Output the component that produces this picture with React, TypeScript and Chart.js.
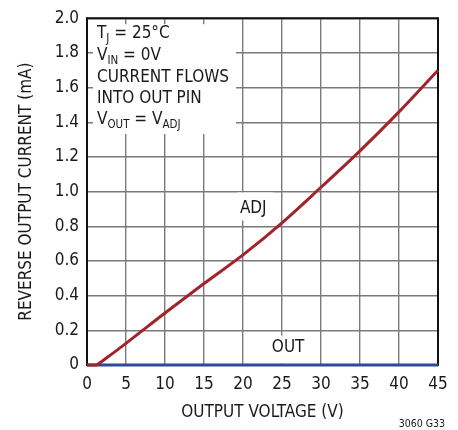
import React, { useEffect, useRef } from "react";
import { Chart, registerables } from "chart.js";

Chart.register(...registerables);

// ADJ pin current: flat part below ~1.3 V, then the rising curve
const adjFlatVoltage = [0, 1.3];
const adjFlatCurrent = [0, 0];
const voltage = [1.3, 5, 10, 15, 20, 25, 30, 35, 40, 45];
const adjCurrent = [0, 0.125, 0.3, 0.47, 0.635, 0.82, 1.025, 1.235, 1.46, 1.7];
const outVoltage = [0, 45];
const outCurrent = [0, 0];
const xTicks = [0, 5, 10, 15, 20, 25, 30, 35, 40, 45];
const yTicks = [0, 0.2, 0.4, 0.6, 0.8, 1.0, 1.2, 1.4, 1.6, 1.8, 2.0];

const FONT = '"DejaVu Sans Condensed", "Liberation Sans Narrow", sans-serif';
const RED = "#a3232a";
const BLUE = "#2c4a9c";

const decorPlugin = {
  id: "decor",
  beforeDatasetsDraw(chart: any) {
    const ctx = chart.ctx;
    const a = chart.chartArea;
    const x = chart.scales.x;
    const y = chart.scales.y;
    ctx.save();
    ctx.fillStyle = "#fff";
    ctx.fillRect(a.left + 6, a.top + 6, 236 - (a.left + 6), 134 - (a.top + 6));
    ctx.fillRect(x.getPixelForValue(19.3), y.getPixelForValue(0.995), 36, 28);
    ctx.fillRect(x.getPixelForValue(23.5), y.getPixelForValue(0.17), 38, 28);
    ctx.strokeStyle = "#111";
    ctx.lineWidth = 2;
    ctx.strokeRect(a.left, a.top, a.right - a.left, a.bottom - a.top);
    ctx.restore();
  },
  afterDraw(chart: any) {
    const ctx = chart.ctx;
    const a = chart.chartArea;
    const x = chart.scales.x;
    const y = chart.scales.y;
    ctx.save();
    ctx.fillStyle = "#1a1a1a";
    ctx.textBaseline = "alphabetic";
    const big = `17px ${FONT}`;
    const small = `11.5px ${FONT}`;
    const runs = (parts: [string, boolean][], px: number, py: number) => {
      let cx = px;
      for (const [t, sub] of parts) {
        ctx.font = sub ? small : big;
        ctx.fillText(t, cx, sub ? py + 4 : py);
        cx += ctx.measureText(t).width;
      }
    };
    ctx.textAlign = "left";
    const lx = a.left + 10;
    runs([["T", false], ["J", true], [" = 25°C", false]], lx, 38);
    runs([["V", false], ["IN", true], [" = 0V", false]], lx, 60);
    runs([["CURRENT FLOWS", false]], lx, 82);
    runs([["INTO OUT PIN", false]], lx, 103);
    runs([["V", false], ["OUT", true], [" = V", false], ["ADJ", true]], lx, 124);

    ctx.font = big;
    ctx.fillText("ADJ", x.getPixelForValue(19.6), y.getPixelForValue(0.875));
    ctx.fillText("OUT", x.getPixelForValue(23.7), y.getPixelForValue(0.075));

    ctx.textAlign = "center";
    ctx.fillText("OUTPUT VOLTAGE (V)", (a.left + a.right) / 2, 417);
    ctx.save();
    ctx.translate(31, (a.top + a.bottom) / 2);
    ctx.rotate(-Math.PI / 2);
    ctx.fillText("REVERSE OUTPUT CURRENT (mA)", 0, 0);
    ctx.restore();

    ctx.textAlign = "right";
    ctx.font = `10.5px ${FONT}`;
    ctx.fillText("3060 G33", 445, 427);
    ctx.restore();
  },
};

export default function App() {
  const ref = useRef<HTMLCanvasElement>(null);
  useEffect(() => {
    if (!ref.current) return;
    const chart = new Chart(ref.current, {
      type: "line",
      data: {
        datasets: [
          {
            label: "ADJ",
            data: voltage.map((v, i) => ({ x: v, y: adjCurrent[i] })),
            borderColor: RED,
            borderWidth: 3,
            pointRadius: 0,
            cubicInterpolationMode: "monotone",
            clip: false,
          },
          {
            label: "ADJ flat",
            data: adjFlatVoltage.map((v, i) => ({ x: v, y: adjFlatCurrent[i] })),
            borderColor: RED,
            borderWidth: 3,
            pointRadius: 0,
            clip: false,
          },
          {
            label: "OUT",
            data: outVoltage.map((v, i) => ({ x: v, y: outCurrent[i] })),
            borderColor: BLUE,
            borderWidth: 3,
            pointRadius: 0,
            clip: false,
          },
        ],
      },
      options: {
        responsive: false,
        animation: false,
        layout: { padding: { top: 16, right: 20, left: 0, bottom: 0 } },
        plugins: { legend: { display: false }, tooltip: { enabled: false } },
        scales: {
          x: {
            type: "linear",
            min: 0,
            max: 45,
            afterBuildTicks: (s: any) => {
              s.ticks = xTicks.map((v) => ({ value: v }));
            },
            afterFit: (s: any) => {
              s.height = 65;
            },
            grid: { color: "#7a7a7a", lineWidth: 1.4, drawTicks: false },
            border: { display: false },
            ticks: {
              padding: 9,
              color: "#1a1a1a",
              font: { family: FONT, size: 17 },
              maxRotation: 0,
              callback: (v: any) => String(v),
            },
          },
          y: {
            type: "linear",
            min: 0,
            max: 2,
            afterBuildTicks: (s: any) => {
              s.ticks = yTicks.map((v) => ({ value: v }));
            },
            afterFit: (s: any) => {
              s.width = 87;
            },
            grid: { color: "#7a7a7a", lineWidth: 1.4, drawTicks: false },
            border: { display: false },
            ticks: {
              padding: 8,
              color: "#1a1a1a",
              font: { family: FONT, size: 17 },
              callback: (v: any) => (v === 0 ? "0" : Number(v).toFixed(1)),
            },
          },
        },
      },
      plugins: [decorPlugin],
    });
    return () => chart.destroy();
  }, []);
  return (
    <div style={{ position: "absolute", left: 0, top: 0, width: 458, height: 430, background: "#fff" }}>
      <canvas ref={ref} width={458} height={430} />
    </div>
  );
}
